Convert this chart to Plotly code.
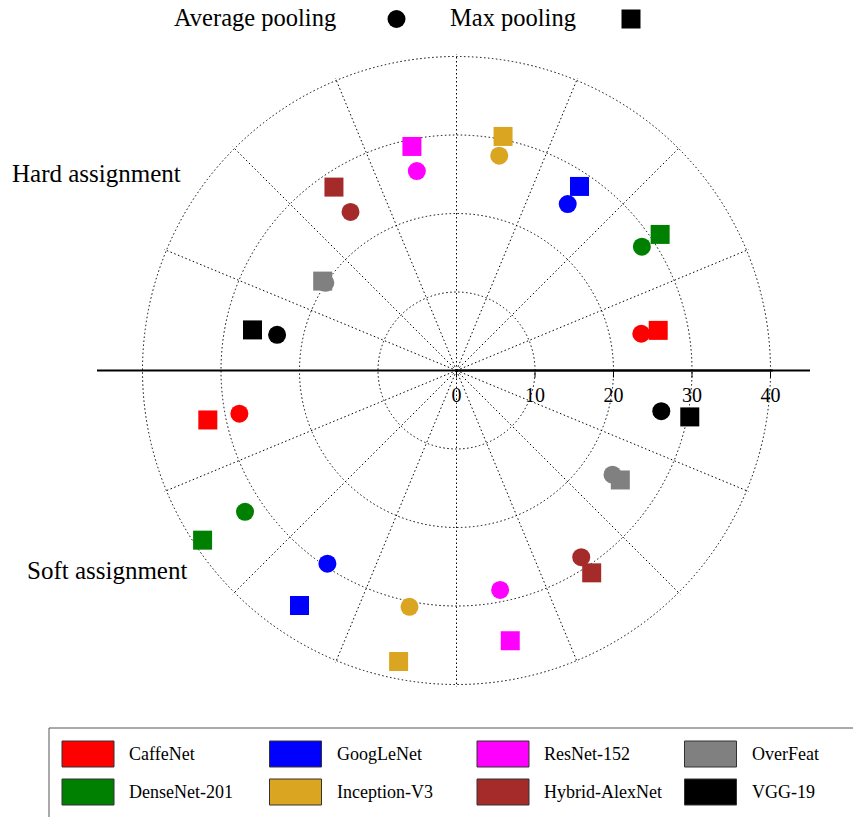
import plotly.graph_objects as go

W, H = 853, 817

models = ["CaffeNet", "DenseNet-201", "GoogLeNet", "Inception-V3",
          "ResNet-152", "Hybrid-AlexNet", "OverFeat", "VGG-19"]
colors = ["#ff0000", "#008000", "#0000ff", "#daa520",
          "#ff00ff", "#a52a2a", "#808080", "#000000"]
hard_avg = [24.0, 28.4, 25.5, 27.9, 25.9, 24.3, 20.1, 23.3]
hard_max = [26.2, 31.2, 28.2, 30.4, 29.1, 28.1, 20.5, 26.5]
soft_avg = [28.2, 32.4, 29.6, 30.7, 28.5, 28.6, 23.9, 26.6]
soft_max = [32.3, 38.9, 36.0, 37.8, 35.1, 31.0, 25.1, 30.3]
radial_ticks = [0, 10, 20, 30, 40]

SECTOR = 22.5
FONT = "Liberation Serif"

def px(x):
    return x / W

def py(y):
    return 1 - y / H

fig = go.Figure()

for i, (name, col) in enumerate(zip(models, colors)):
    th_hard = SECTOR / 2 + SECTOR * i
    th_soft = 180 + SECTOR / 2 + SECTOR * i
    fig.add_trace(go.Scatterpolar(
        r=[hard_avg[i], soft_avg[i]], theta=[th_hard, th_soft],
        mode="markers", name=name + " avg", showlegend=False,
        marker=dict(symbol="circle", size=18, color=col, line=dict(width=0))))
for i, (name, col) in enumerate(zip(models, colors)):
    th_hard = SECTOR / 2 + SECTOR * i
    th_soft = 180 + SECTOR / 2 + SECTOR * i
    fig.add_trace(go.Scatterpolar(
        r=[hard_max[i], soft_max[i]], theta=[th_hard, th_soft],
        mode="markers", name=name + " max", showlegend=False,
        marker=dict(symbol="square", size=19, color=col, line=dict(width=0))))

# polar geometry
cx, cy, R40 = 456.5, 370.5, 314.0
rmax = 40.3
Rpx = R40 * rmax / 40
fig.update_layout(
    width=W, height=H,
    margin=dict(l=0, r=0, t=0, b=0),
    paper_bgcolor="white",
    showlegend=False,
    font=dict(family=FONT, color="black"),
    polar=dict(
        domain=dict(x=[px(cx - Rpx), px(cx + Rpx)],
                    y=[py(cy + Rpx), py(cy - Rpx)]),
        bgcolor="white",
        radialaxis=dict(
            range=[0, rmax], tickvals=radial_ticks,
            ticktext=[str(t) for t in radial_ticks],
            angle=0, side="clockwise", tickangle=0,
            showline=True, linecolor="black", linewidth=2,
            ticks="outside", ticklen=6, tickcolor="black",
            tickfont=dict(family=FONT, size=20, color="black"),
            showgrid=True, gridcolor="black", gridwidth=1,
            griddash="1.5px,2.5px"),
        angularaxis=dict(
            type="linear", thetaunit="degrees", rotation=0,
            direction="counterclockwise",
            tickmode="linear", tick0=0, dtick=SECTOR,
            showticklabels=False, ticks="", showline=False,
            showgrid=True, gridcolor="black", gridwidth=1,
            griddash="1.5px,2.5px"),
    ),
)

shapes = []
annotations = []
# long horizontal axis line
shapes.append(dict(type="line", xref="paper", yref="paper",
                   x0=px(97), x1=px(810), y0=py(cy), y1=py(cy),
                   line=dict(color="black", width=2)))

# group labels
annotations.append(dict(text="Hard assignment", x=px(10), y=py(173),
                        xref="paper", yref="paper", xanchor="left",
                        yanchor="middle", showarrow=False,
                        font=dict(family=FONT, size=25)))
annotations.append(dict(text="Soft assignment", x=px(25), y=py(570),
                        xref="paper", yref="paper", xanchor="left",
                        yanchor="middle", showarrow=False,
                        font=dict(family=FONT, size=25)))

# top legend (text then symbol)
annotations.append(dict(text="Average pooling", x=px(172), y=py(18),
                        xref="paper", yref="paper", xanchor="left",
                        yanchor="middle", showarrow=False,
                        font=dict(family=FONT, size=24.5)))
annotations.append(dict(text="Max pooling", x=px(448), y=py(18),
                        xref="paper", yref="paper", xanchor="left",
                        yanchor="middle", showarrow=False,
                        font=dict(family=FONT, size=24.5)))
shapes.append(dict(type="circle", xref="paper", yref="paper",
                   x0=px(387.5), x1=px(405.5), y0=py(28), y1=py(10),
                   fillcolor="black", line=dict(width=0)))
shapes.append(dict(type="rect", xref="paper", yref="paper",
                   x0=px(621.5), x1=px(640.5), y0=py(28.5), y1=py(9.5),
                   fillcolor="black", line=dict(width=0)))

# bottom legend frame
shapes.append(dict(type="rect", xref="paper", yref="paper",
                   x0=px(49), x1=px(W + 30), y0=py(H + 30), y1=py(728),
                   fillcolor="rgba(0,0,0,0)", line=dict(color="#555", width=1)))
for i, (name, col) in enumerate(zip(models, colors)):
    c, r = i // 2, i % 2
    x0 = 62 + c * 207.5
    y0 = 741 + r * 38
    shapes.append(dict(type="rect", xref="paper", yref="paper",
                       x0=px(x0), x1=px(x0 + 52), y0=py(y0 + 26), y1=py(y0),
                       fillcolor=col, line=dict(color="#333", width=1)))
    annotations.append(dict(text=name, x=px(x0 + 65), y=py(y0 + 13),
                            xref="paper", yref="paper", xanchor="left",
                            yanchor="middle", showarrow=False,
                            font=dict(family=FONT, size=18)))

fig.update_layout(shapes=shapes, annotations=annotations)
fig.write_html(
    "out.html",
    config={"displayModeBar": False},
    post_script="document.body.style.margin='0px';"
                "document.body.style.overflow='hidden';")
